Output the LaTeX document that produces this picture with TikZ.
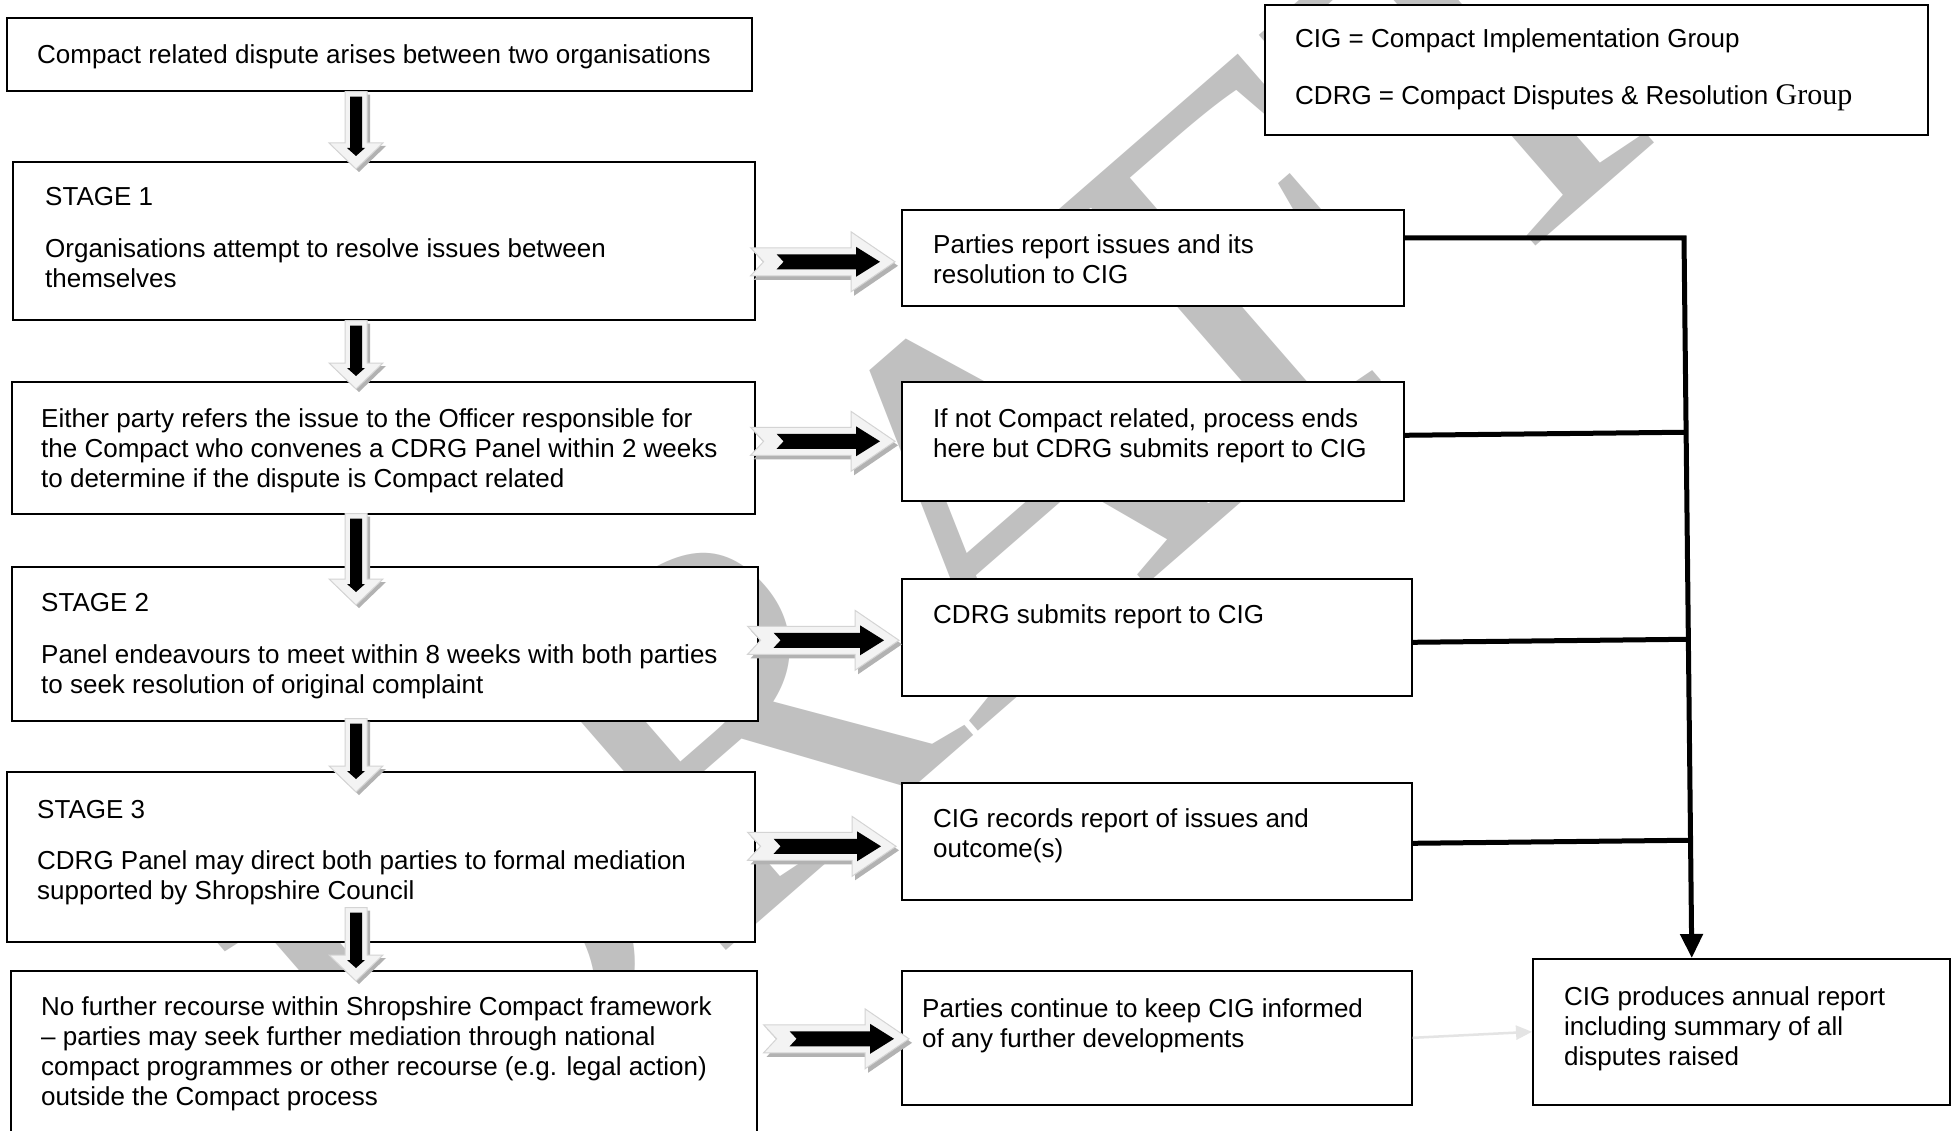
\documentclass[tikz,border=0pt]{standalone}
\usepackage{fontspec}
\setmainfont{Liberation Sans}
\newfontfamily\serifG{Liberation Serif}
\usetikzlibrary{calc,arrows.meta}
\definecolor{wm}{RGB}{192,192,192}
\definecolor{blkfill}{RGB}{243,243,243}
\definecolor{blkedge}{RGB}{212,212,212}
\definecolor{blkshadow}{RGB}{178,178,178}
\definecolor{faint}{RGB}{228,228,228}
\newcommand\ml[1]{\vtop{\baselineskip=30pt\lineskiplimit=-100pt\lineskip=0pt\halign{##\hfil\cr#1\crcr}}}
% horizontal block arrow: #1 tail, #2 tip
\newcommand\hblock[2]{%
  \path let \p1=($(#2)-(#1)$) in \pgfextra{\xdef\blen{\x1}};
  \begin{scope}[shift={(#1)},x=1pt,y=1pt]
    \fill[blkshadow,shift={(3,-4)}] (0,14) -- (\blen-44pt,14) -- (\blen-44pt,30) -- (\blen,0) -- (\blen-44pt,-30) -- (\blen-44pt,-14) -- (0,-14) -- (13,0) -- cycle;
    \filldraw[fill=blkfill,draw=blkedge,line width=1pt] (0,14) -- (\blen-44pt,14) -- (\blen-44pt,30) -- (\blen,0) -- (\blen-44pt,-30) -- (\blen-44pt,-14) -- (0,-14) -- (13,0) -- cycle;
    \fill[black] (26,7.5) -- (\blen-39pt,7.5) -- (\blen-39pt,15) -- (\blen-15pt,0) -- (\blen-39pt,-15) -- (\blen-39pt,-7.5) -- (26,-7.5) -- (33,0) -- cycle;
  \end{scope}}
% vertical block arrow: #1 tail (top), #2 tip (bottom)
\newcommand\vblock[2]{%
  \path let \p1=($(#1)-(#2)$) in \pgfextra{\xdef\blen{\y1}};
  \begin{scope}[shift={(#1)},x=1pt,y=1pt]
    \fill[blkshadow,shift={(3,-3)}] (-11,0) -- (11,0) -- (11,-\blen+26pt) -- (27,-\blen+26pt) -- (0,-\blen) -- (-27,-\blen+26pt) -- (-11,-\blen+26pt) -- cycle;
    \filldraw[fill=blkfill,draw=blkedge,line width=1pt] (-11,0) -- (11,0) -- (11,-\blen+26pt) -- (27,-\blen+26pt) -- (0,-\blen) -- (-27,-\blen+26pt) -- (-11,-\blen+26pt) -- cycle;
    \fill[black] (-6,-5) -- (6,-5) -- (6,-\blen+21pt) -- (9,-\blen+21pt) -- (0,-\blen+13pt) -- (-9,-\blen+21pt) -- (-6,-\blen+21pt) -- cycle;
  \end{scope}}
\tikzset{
  box/.style={draw,line width=1.6pt,fill=white,inner sep=0pt,anchor=north west},
  txt/.style={inner sep=0pt,anchor=base west,font=\fontsize{26pt}{30pt}\selectfont},
  conn/.style={line width=5pt,line join=miter,line cap=butt},
}
\begin{document}
\begin{tikzpicture}[x=1pt,y=-1pt]
\useasboundingbox (0,0) rectangle (1953,1131);
\clip (0,0) rectangle (1953,1131);
\fill[white] (0,0) rectangle (1953,1131);
% watermark
\node[rotate=41,text=wm,inner sep=0pt,font=\serifG\fontsize{520pt}{520pt}\selectfont] (wmark) at (960,520) {DRAFT};
% left column boxes
\node[box,minimum width=745,minimum height=73] (b1) at (6,17) {};
\node[box,minimum width=742,minimum height=158] (s1) at (12,161) {};
\node[box,minimum width=743,minimum height=132] (b3) at (11,381) {};
\node[box,minimum width=746,minimum height=154] (s2) at (11,566) {};
\node[box,minimum width=748,minimum height=170] (s3) at (6,771) {};
\node[box,minimum width=746,minimum height=200] (b6) at (10,970) {};
% right column boxes
\node[box,minimum width=502,minimum height=96] (r1) at (901,209) {};
\node[box,minimum width=502,minimum height=119] (r2) at (901,381) {};
\node[box,minimum width=510,minimum height=117] (r3) at (901,578) {};
\node[box,minimum width=510,minimum height=117] (r4) at (901,782) {};
\node[box,minimum width=510,minimum height=134] (r5) at (901,970) {};
\node[box,minimum width=417,minimum height=146] (fin) at (1532,958) {};
\node[box,minimum width=663,minimum height=130] (lg) at (1264,4) {};
% texts
\node[txt] (b1t) at (37,64) {Compact related dispute arises between two organisations};
\node[txt] (s1h) at (45,206) {STAGE 1};
\node[txt] (s1t) at (45,258) {\ml{Organisations attempt to resolve issues between\cr themselves}};
\node[txt] (b3t) at (41,427) {\ml{Either party refers the issue to the Officer responsible for\cr the Compact who convenes a CDRG Panel within 2 weeks\cr to determine if the dispute is Compact related}};
\node[txt] (s2h) at (41,611) {STAGE 2};
\node[txt] (s2t) at (41,663) {\ml{Panel endeavours to meet within 8 weeks with both parties\cr to seek resolution of original complaint}};
\node[txt] (s3h) at (37,818) {STAGE 3};
\node[txt] (s3t) at (37,869) {\ml{CDRG Panel may direct both parties to formal mediation\cr supported by Shropshire Council}};
\node[txt] (b6t) at (41,1015) {\ml{No further recourse within Shropshire Compact framework\cr – parties may seek further mediation through national\cr compact programmes or other recourse (e.g. legal action)\cr outside the Compact process}};
\node[txt] (r1t) at (933,254) {\ml{Parties report issues and its\cr resolution to CIG}};
\node[txt] (r2t) at (933,427) {\ml{If not Compact related, process ends\cr here but CDRG submits report to CIG}};
\node[txt] (r3t) at (933,623) {CDRG submits report to CIG};
\node[txt] (r4t) at (933,827) {\ml{CIG records report of issues and\cr outcome(s)}};
\node[txt] (r5t) at (922,1017) {\ml{Parties continue to keep CIG informed\cr of any further developments}};
\node[txt] (fint) at (1564,1005) {\ml{CIG produces annual report\cr including summary of all\cr disputes raised}};
\node[txt] (lg1) at (1295,48) {CIG = Compact Implementation Group};
\node[txt] (lg2) at (1295,105) {CDRG = Compact Disputes \& Resolution {\serifG\fontsize{30pt}{30pt}\selectfont Group}};
% vertical block arrows
\coordinate (ax) at (356,0);
\vblock{b1.south -| ax}{$(s1.north -| ax)+(0,8)$}
\vblock{s1.south -| ax}{$(b3.north -| ax)+(0,8)$}
\vblock{$(b3.south -| ax)+(0,-1)$}{$(s2.north -| ax)+(0,39)$}
\vblock{$(s2.south -| ax)+(0,-3)$}{$(s3.north -| ax)+(0,21)$}
\vblock{$(s3.south -| ax)+(0,-35)$}{$(b6.north -| ax)+(0,11)$}
% horizontal block arrows
\hblock{$(s1.east |- r1.west)+(-5,4)$}{$(r1.west)+(-6,4)$}
\hblock{$(b3.east |- r2.west)+(-5,0)$}{$(r2.west)+(-6,0)$}
\hblock{$(s2.east |- r3.west)+(-11,3)$}{$(r3.west)+(-2,3)$}
\hblock{$(s3.east |- r4.west)+(-8,5)$}{$(r4.west)+(-5,5)$}
\hblock{$(b6.east |- r5.west)+(6,1)$}{$(r5.west)+(8,1)$}
% collector lines
\coordinate (vt) at (1684,238);
\coordinate (vb) at ($(fin.north)+(-49.5,0)$);
\coordinate (r2o) at ($(r2.east)+(0,-6)$);
\coordinate (r3o) at ($(r3.east)+(0,5)$);
\coordinate (r4o) at ($(r4.east)+(0,2)$);
\draw[conn,-{Triangle[length=24pt,width=22pt]}] (r1.east |- vt) -- (vt) -- (vb);
\draw[conn] (r2o) -- ($(vt)!(r2o)!(vb)$);
\draw[conn] (r3o) -- ($(vt)!(r3o)!(vb)$);
\draw[conn] (r4o) -- ($(vt)!(r4o)!(vb)$);
\draw[line width=2.5pt,faint,-{Triangle[length=16pt,width=14pt]}] (r5.east) -- (fin.west);
\end{tikzpicture}
\end{document}
